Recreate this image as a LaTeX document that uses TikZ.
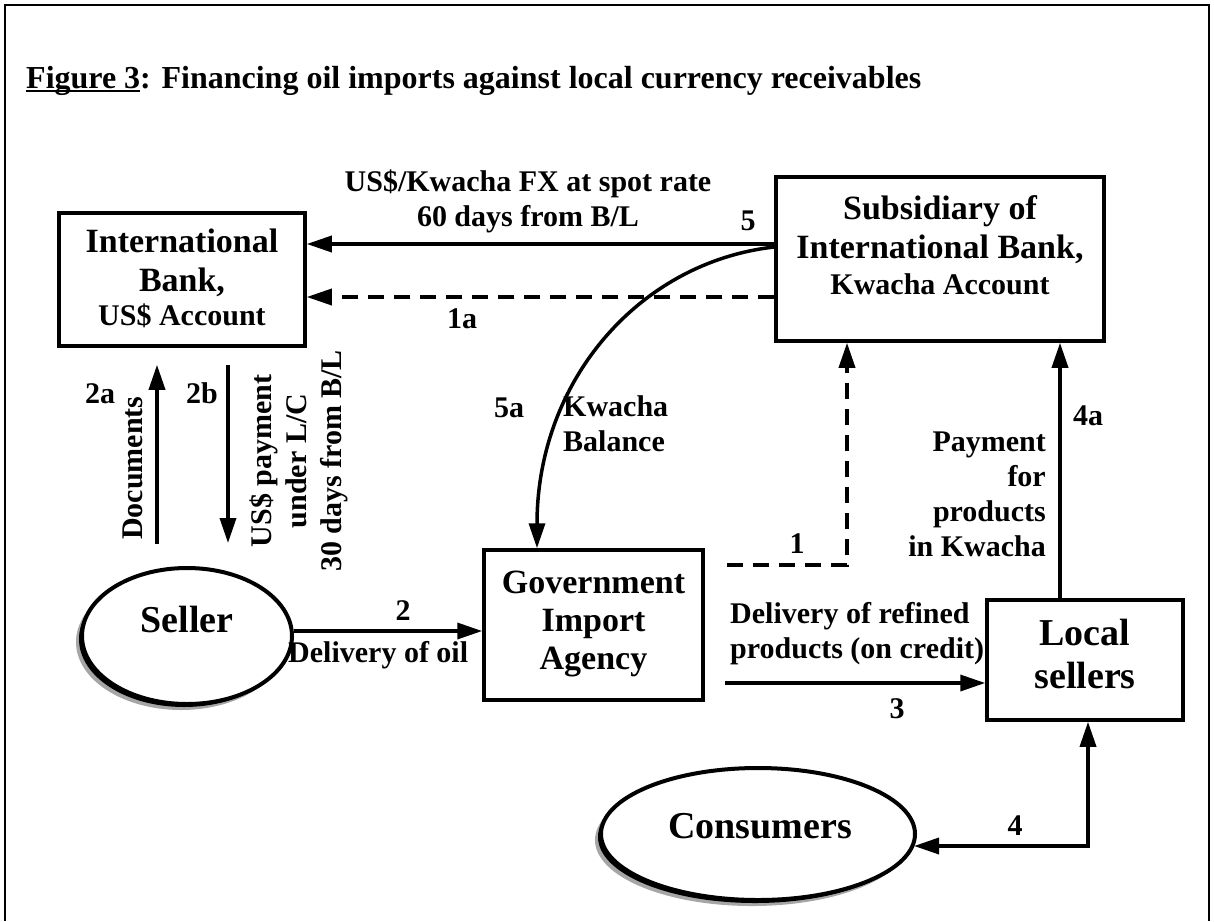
\documentclass[tikz,border=0pt]{standalone}
\usepackage{fontspec}
\setmainfont{Liberation Serif}
\usetikzlibrary{arrows.meta,shapes.geometric,shadows}
\newcommand\figul[1]{\setbox0=\hbox{#1}\rlap{\rule[-4pt]{\wd0}{2.5pt}}\box0}
\begin{document}
\begin{tikzpicture}[x=1pt,y=-1pt,
  frame/.style={line width=2pt},
  box/.style={draw, rectangle, line width=3.5pt, inner sep=0pt},
  ell/.style={draw, ellipse, line width=4pt, fill=white, inner sep=0pt,
     drop shadow={shadow xshift=-6pt, shadow yshift=-6pt, fill=gray!70, opacity=1},
     drop shadow={shadow xshift=-3pt, shadow yshift=-3pt, fill=black, opacity=1}},
  bt/.style={font=\bfseries\fontsize{34}{39}\selectfont, inner sep=0pt, align=center},
  big/.style={font=\bfseries\fontsize{38}{43}\selectfont, inner sep=0pt, align=center},
  lab/.style={font=\bfseries\fontsize{30}{35}\selectfont, inner sep=0pt},
  arr/.style={line width=3.5pt, -{Triangle[length=25pt,width=16pt]}},
  arrtwo/.style={line width=3.5pt, {Triangle[length=25pt,width=16pt]}-{Triangle[length=25pt,width=16pt]}},
  dsh/.style={dash pattern=on 16pt off 10pt}]
\useasboundingbox (0,0) rectangle (1214,921);
\draw[frame] (5,921) -- (5,5) -- (1209,5) -- (1209,921);

\node[anchor=base west, inner sep=0pt, font=\bfseries\fontsize{32}{38}\selectfont] (title) at (26,88)
  {\figul{Figure 3}: Financing oil imports against local currency receivables};

% boxes
\node[box, minimum width=246pt, minimum height=133pt] (ib) at (182,279.5) {};
\node[box, minimum width=328pt, minimum height=164pt] (sub) at (940,259) {};
\node[box, minimum width=219pt, minimum height=150pt] (gov) at (593.5,625) {};
\node[box, minimum width=196pt, minimum height=120pt] (loc) at (1085,660) {};
\node[ell, minimum width=210pt, minimum height=136pt] (seller) at (187,636) {};
\node[ell, minimum width=314pt, minimum height=132pt] (cons) at (758,834) {};

% box texts
\node[bt, anchor=north] (ibt) at (182,229) {International\\Bank,\\[-5pt]{\fontsize{30}{35}\selectfont US\$ Account}};
\node[bt, anchor=north] (subt) at (940,195) {Subsidiary of\\International Bank,\\[-3pt]{\fontsize{30}{35}\selectfont Kwacha Account}};
\node[bt, anchor=north, font=\bfseries\fontsize{34}{38}\selectfont] (govt) at (593.5,571) {Government\\Import\\Agency};
\node[big, anchor=north] (loct) at (1085,619) {Local\\sellers};
\node[big, anchor=base] (sellert) at (187,632) {Seller};
\node[big, anchor=base] (const) at (760,838) {Consumers};

% connectors
\coordinate (s5) at ([yshift=15pt]sub.west);
\draw[arr] (s5) -- (s5 -| ib.east);
\coordinate (s1a) at ([yshift=-38pt]sub.west);
\draw[arr,dsh] (s1a) -- (s1a -| ib.east);
\coordinate (s5a) at ([yshift=12pt]sub.west);
\coordinate (g5a) at ([xshift=-56.5pt]gov.north);
\draw[arr] (s5a) .. controls (640,262) and (537,380) .. (g5a);
\coordinate (s2) at ([yshift=5pt]seller.east);
\draw[arr] (s2) -- (s2 -| gov.west);
\coordinate (u2a) at ([xshift=-25pt,yshift=-17pt]ib.south);
\coordinate (d2a) at (157,544);
\draw[arr] (d2a) -- (u2a);
\coordinate (u2b) at ([xshift=46pt,yshift=-17pt]ib.south);
\coordinate (d2b) at (228,543);
\draw[arr] (u2b) -- (d2b);
\coordinate (d1) at (727,565);
\draw[arr,dsh] (d1) -| ([xshift=-93pt]sub.south);
\coordinate (d3) at (725,683);
\draw[arr] (d3) -- (d3 -| loc.west);
\coordinate (l4a) at ([xshift=-25pt]loc.north);
\draw[arr] (l4a) -- (l4a |- sub.south);
\coordinate (c4) at (914,846);
\draw[arrtwo] (c4) -| ([xshift=3pt]loc.south);

% labels
\node[lab, anchor=base] (n5) at (748,230) {5};
\node[lab, anchor=base] (n1a) at (462,328) {1a};
\node[lab, anchor=base] (n5a) at (509,417) {5a};
\node[lab, anchor=base] (n2a) at (100,403) {2a};
\node[lab, anchor=base] (n2b) at (202,403) {2b};
\node[lab, anchor=base] (n1) at (797,553) {1};
\node[lab, anchor=base] (n2) at (403,620) {2};
\node[lab, anchor=base] (n3) at (897,718) {3};
\node[lab, anchor=base] (n4a) at (1088,425) {4a};
\node[lab, anchor=base] (n4) at (1015,835) {4};

\node[lab, align=center, anchor=north] (fx) at (528,170) {US\$/Kwacha FX at spot rate\\60 days from B/L};
\node[lab, align=left, anchor=north west] (kb) at (563,395) {Kwacha\\Balance};
\node[lab, align=left, anchor=north west] (dr) at (730,602) {Delivery of refined\\products (on credit)};
\node[lab, anchor=base west] (doil) at (288,662) {Delivery of oil};
\node[lab, align=right, anchor=north east] (pay) at (1046,432) {Payment\\for\\products\\in Kwacha};
\node[lab, rotate=90] (docs) at (133,468) {Documents};
\node[lab, rotate=90, align=center] (usp) at (299,461) {US\$ payment\\under L/C\\30 days from B/L};
\end{tikzpicture}
\end{document}
